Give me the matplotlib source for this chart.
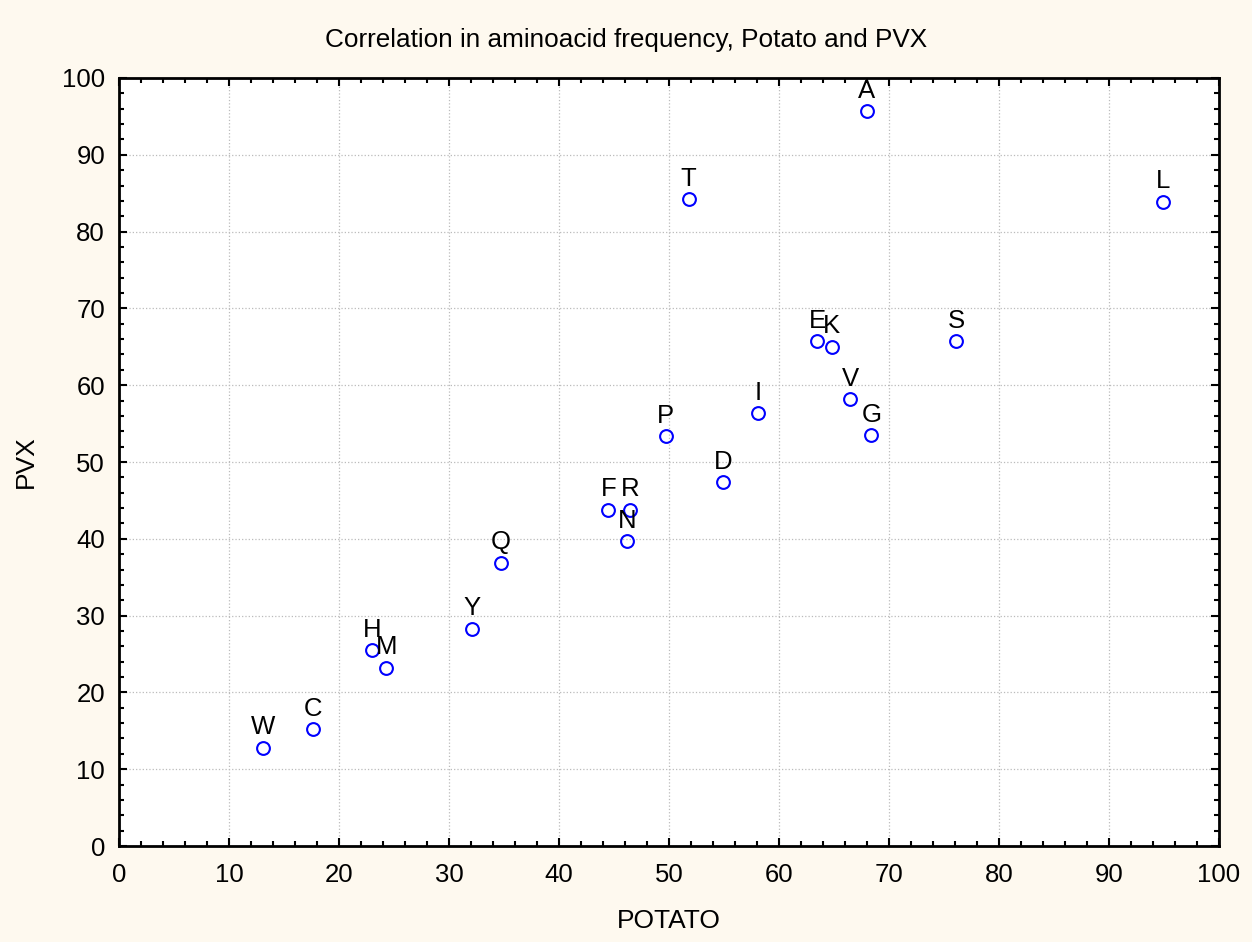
import numpy as np
import matplotlib
matplotlib.use('Agg')
import matplotlib.pyplot as plt
from matplotlib.ticker import MultipleLocator

# aminoacid frequencies
aminoacids = ['W', 'C', 'H', 'M', 'Y', 'Q', 'F', 'R', 'N', 'P',
              'D', 'I', 'E', 'K', 'V', 'G', 'S', 'A', 'T', 'L']
potato = [13.1, 17.6, 23.0, 24.3, 32.1, 34.7, 44.5, 46.5, 46.2, 49.7,
          54.9, 58.1, 63.5, 64.8, 66.5, 68.4, 76.1, 68.0, 51.8, 94.9]
pvx = [12.8, 15.2, 25.5, 23.2, 28.3, 36.9, 43.8, 43.8, 39.7, 53.4,
       47.4, 56.4, 65.7, 65.0, 58.2, 53.5, 65.7, 95.7, 84.2, 83.9]

plt.rcParams['font.family'] = ['Liberation Sans', 'DejaVu Sans']

fig = plt.figure(figsize=(12.52, 9.42), dpi=100, facecolor='#FEF9EF')
ax = fig.add_axes([0.0950, 0.1019, 0.8786, 0.8153])
ax.set_facecolor('white')

ax.plot(potato, pvx, 'o', markersize=9.2, markerfacecolor='none',
        markeredgecolor='#0000FF', markeredgewidth=1.5, zorder=3)

for name, x, y in zip(aminoacids, potato, pvx):
    ax.annotate(name, (x, y), xytext=(0, 6), textcoords='offset points',
                ha='center', va='bottom', fontsize=18.5, color='black')

ax.set_xlim(0, 100)
ax.set_ylim(0, 100)
ax.xaxis.set_major_locator(MultipleLocator(10))
ax.yaxis.set_major_locator(MultipleLocator(10))
ax.xaxis.set_minor_locator(MultipleLocator(2))
ax.yaxis.set_minor_locator(MultipleLocator(2))
ax.tick_params(which='both', direction='in', top=True, right=True, width=1.5)
ax.tick_params(which='major', length=6, labelsize=18.5)
ax.tick_params(axis='x', which='major', pad=12)
ax.tick_params(axis='y', which='major', pad=10)
ax.tick_params(which='minor', length=3.5)

ax.grid(True, which='major', color='#BBBBBB', linestyle=':', linewidth=0.9)
for s in ax.spines.values():
    s.set_linewidth(2)

# title is centred on the whole figure, not on the axes
fig.text(0.5, 1 - 40 / 942, 'Correlation in aminoacid frequency, Potato and PVX',
         ha='center', va='center', fontsize=18.8)
ax.set_xlabel('POTATO', fontsize=19, labelpad=16)
ax.set_ylabel('PVX', fontsize=19, labelpad=17)

plt.savefig('out.png', dpi=100, facecolor=fig.get_facecolor())
